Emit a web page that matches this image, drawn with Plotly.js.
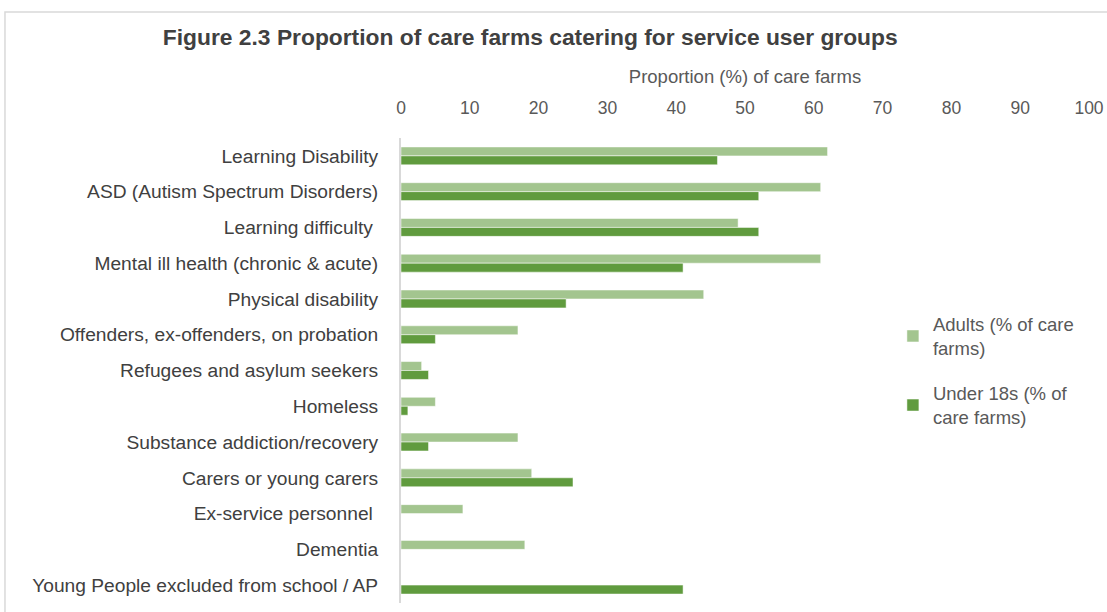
<!DOCTYPE html>
<html>
<head>
<meta charset="utf-8">
<script src="https://cdn.plot.ly/plotly-3.0.1.min.js"></script>
<style>html,body{margin:0;padding:0;background:#fff}#chart{width:1107px;height:612px}</style>
</head>
<body>
<div id="chart"></div>
<script>
const categories = [
  "Learning Disability",
  "ASD (Autism Spectrum Disorders)",
  "Learning difficulty ",
  "Mental ill health (chronic & acute)",
  "Physical disability",
  "Offenders, ex-offenders, on probation",
  "Refugees and asylum seekers",
  "Homeless",
  "Substance addiction/recovery",
  "Carers or young carers",
  "Ex-service personnel ",
  "Dementia",
  "Young People excluded from school / AP"
];
const adults   = [62, 61, 49, 61, 44, 17, 3, 5, 17, 19, 9, 18, null];
const under18s = [46, 52, 52, 41, 24, 5, 4, 1, 4, 25, null, null, 41];
const xTicks = [0, 10, 20, 30, 40, 50, 60, 70, 80, 90, 100];

const FONT = "Liberation Sans, Arial, sans-serif";
const traces = [
  {type: "bar", orientation: "h", name: "Adults (% of care<br>farms)", y: categories, x: adults,
   marker: {color: "#a3c58f", line: {color: "#ffffff", width: 0.5}}, legendgroup: "a"},
  {type: "bar", orientation: "h", name: "Under 18s (% of<br>care farms)", y: categories, x: under18s,
   marker: {color: "#609b3e", line: {color: "#ffffff", width: 0.5}}, legendgroup: "b"}
];
const layout = {
  width: 1107, height: 612,
  margin: {l: 401, r: 18, t: 138, b: 9},
  paper_bgcolor: "#ffffff", plot_bgcolor: "#ffffff",
  font: {family: FONT, color: "#595959", size: 18},
  title: {text: "<b>Figure 2.3 Proportion of care farms catering for service user groups</b>",
          font: {family: FONT, size: 22.8, color: "#404040"}, x: 0.479, xanchor: "center", y: 0.94, yanchor: "middle"},
  barmode: "group", bargap: 0.5, bargroupgap: 0,
  xaxis: {side: "top", range: [0, 100], tickvals: xTicks, showgrid: false, zeroline: false,
          showline: false, ticks: "", ticklabelstandoff: 20,
          tickfont: {size: 17.5, color: "#595959"},
          title: {text: "Proportion (%) of care farms", font: {size: 18.5, color: "#595959"}, standoff: 9}},
  yaxis: {autorange: "reversed", showgrid: false, zeroline: false, showline: true,
          linecolor: "#d9d9d9", linewidth: 2, ticks: "", ticklabelstandoff: 17,
          tickfont: {size: 19.2, color: "#404040"}},
  showlegend: true,
  legend: {x: 0.715, y: 0.64, xanchor: "left", yanchor: "top", traceorder: "grouped",
           tracegroupgap: 18, font: {size: 18.5, color: "#595959"}, bgcolor: "rgba(0,0,0,0)"},
  shapes: [{type: "rect", xref: "paper", yref: "paper", x0: -0.5756, x1: 1.2, y0: -0.2, y1: 1.271,
            line: {color: "#d9d9d9", width: 1.5}, fillcolor: "rgba(0,0,0,0)", layer: "below"}]
};
Plotly.newPlot("chart", traces, layout, {displayModeBar: false, staticPlot: true});
</script>
</body>
</html>
